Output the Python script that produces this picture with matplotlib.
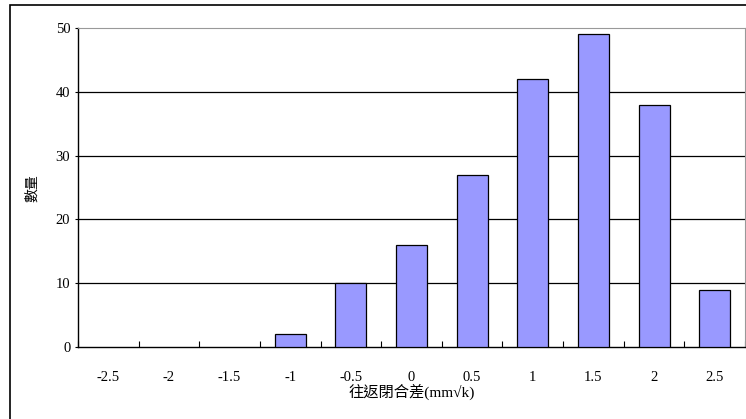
import matplotlib
matplotlib.use("Agg")
import matplotlib.pyplot as plt
from matplotlib.patches import Rectangle
import numpy as np

plt.rcParams['font.family'] = ['Liberation Serif', 'Noto Sans CJK TC']

# 數據
categories = ["-2.5", "-2", "-1.5", "-1", "-0.5", "0", "0.5", "1", "1.5", "2", "2.5"]
counts = [0, 0, 0, 2, 10, 16, 27, 42, 49, 38, 9]
y_ticks = [0, 10, 20, 30, 40, 50]

fig = plt.figure(figsize=(7.46, 4.19), dpi=100)
ax = fig.add_axes([78 / 746, 1 - 347 / 419, 667 / 746, 319 / 419])

# 外框
fig.patches.append(Rectangle((9.5 / 746, -0.1), 2, 1.1 - 5.5 / 419, transform=fig.transFigure,
                             fill=False, edgecolor="black", linewidth=1.2))

x = np.arange(len(categories))
edges = ["black" if c > 0 else "none" for c in counts]
ax.bar(x, counts, width=0.51, color="#9999FF", edgecolor=edges, linewidth=0.9, zorder=3)

ax.set_xlim(-0.5, len(categories) - 0.5)
ax.set_ylim(0, 50)
ax.set_yticks(y_ticks)
ax.set_xticks(x)
ax.set_xticklabels(categories)
ax.set_xticks(np.arange(len(categories) + 1) - 0.5, minor=True)
ax.tick_params(axis="x", which="major", length=0, pad=17, labelsize=10.5)
ax.tick_params(axis="x", which="minor", direction="in", length=4, width=0.8)
ax.tick_params(axis="y", length=2, pad=3.5, labelsize=10.5)

for y in y_ticks[1:-1]:
    ax.axhline(y, color="black", linewidth=0.9, zorder=1)

ax.spines["top"].set_color("#999999")
ax.spines["right"].set_color("#999999")
ax.spines["left"].set_linewidth(1.0)
ax.spines["bottom"].set_linewidth(1.0)

ax.set_xlabel("往返閉合差(mm√k)", fontsize=11, labelpad=0)
fig.text(32 / 746, 1 - 188 / 419, "數量", rotation=90, ha="center", va="center", fontsize=10)

plt.savefig("out.png", dpi=100)
